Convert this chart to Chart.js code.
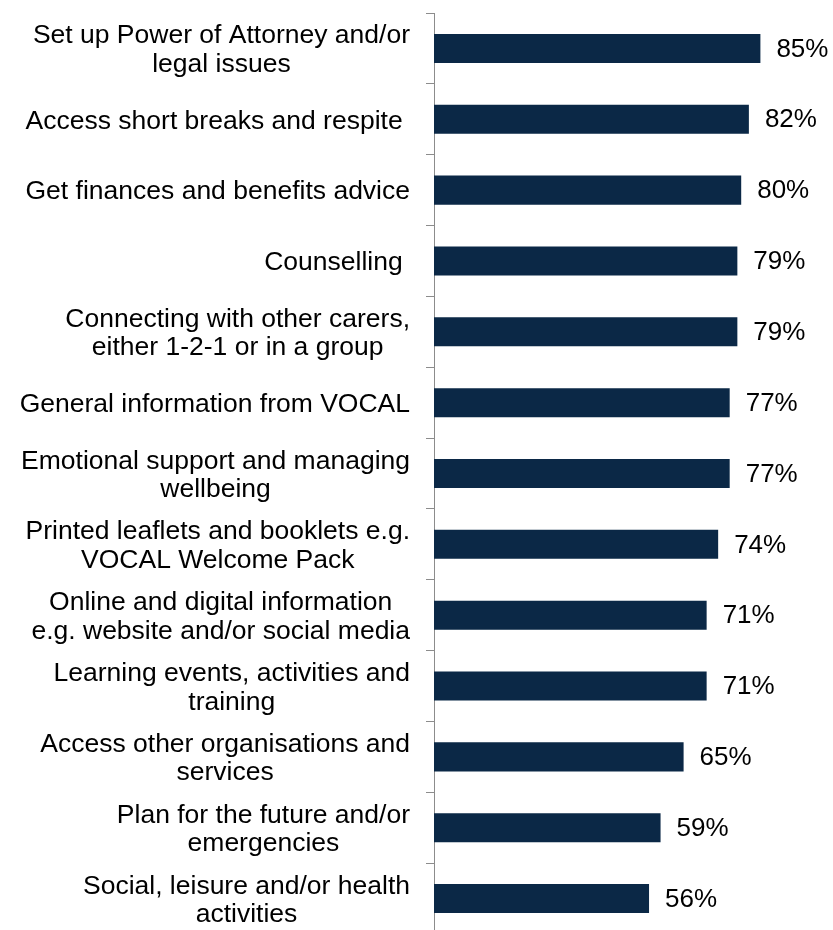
<!DOCTYPE html>
<html>
<head>
<meta charset="utf-8">
<script src="https://cdn.jsdelivr.net/npm/chart.js@4/dist/chart.umd.min.js"></script>
<style>
  html, body { margin: 0; padding: 0; background: #fff; overflow: hidden; }
  canvas { display: block; }
</style>
</head>
<body>
<canvas id="chart" width="833" height="936"></canvas>
<script>
// categories, each entry is the lines of the label
const categories = [
  ['Set up Power of Attorney and/or', 'legal issues'],
  ['Access short breaks and respite '],
  ['Get finances and benefits advice'],
  ['Counselling '],
  ['Connecting with other carers,', 'either 1-2-1 or in a group'],
  ['General information from VOCAL'],
  ['Emotional support and managing', 'wellbeing'],
  ['Printed leaflets and booklets e.g.', 'VOCAL Welcome Pack'],
  ['Online and digital information', 'e.g. website and/or social media'],
  ['Learning events, activities and', 'training'],
  ['Access other organisations and', 'services'],
  ['Plan for the future and/or', 'emergencies'],
  ['Social, leisure and/or health', 'activities']
];
const values = [85, 82, 80, 79, 79, 77, 77, 74, 71, 71, 65, 59, 56];

const FONT = '"Liberation Sans", Arial, sans-serif';

// category labels: lines centred on each other, block right-aligned next to the axis
const sideLabels = {
  id: 'sideLabels',
  afterDraw(chart) {
    const ctx = chart.ctx;
    const yScale = chart.scales.y;
    const right = chart.chartArea.left - 24;
    const lineH = 28.5;
    ctx.save();
    ctx.font = '26.5px ' + FONT;
    ctx.fillStyle = '#000';
    ctx.textAlign = 'center';
    ctx.textBaseline = 'middle';
    categories.forEach((lines, i) => {
      const y = yScale.getPixelForValue(i) + 2;
      const w = Math.max(...lines.map(l => ctx.measureText(l).width));
      const cx = right - w / 2;
      lines.forEach((l, j) => {
        ctx.fillText(l, cx, y + (j - (lines.length - 1) / 2) * lineH);
      });
    });
    ctx.restore();
  }
};

// value labels at the end of each bar
const valueLabels = {
  id: 'valueLabels',
  afterDatasetsDraw(chart) {
    const ctx = chart.ctx;
    const meta = chart.getDatasetMeta(0);
    ctx.save();
    ctx.font = '26px ' + FONT;
    ctx.fillStyle = '#000';
    ctx.textAlign = 'left';
    ctx.textBaseline = 'middle';
    meta.data.forEach((bar, i) => {
      ctx.fillText(values[i] + '%', bar.x + 16, bar.y + 1);
    });
    ctx.restore();
  }
};

new Chart(document.getElementById('chart'), {
  type: 'bar',
  data: {
    labels: categories,
    datasets: [{
      data: values,
      backgroundColor: '#0B2846',
      borderWidth: 0,
      barPercentage: 0.41,
      categoryPercentage: 1
    }]
  },
  options: {
    indexAxis: 'y',
    responsive: false,
    animation: false,
    layout: { padding: { left: 426, top: 13, right: 15, bottom: 2 } },
    plugins: {
      legend: { display: false },
      tooltip: { enabled: false }
    },
    scales: {
      x: {
        display: false,
        min: 0,
        max: 100
      },
      y: {
        offset: true,
        ticks: { display: false },
        grid: {
          offset: true,
          drawOnChartArea: false,
          drawTicks: true,
          tickLength: 8,
          color: '#8C8C8C',
          lineWidth: 1
        },
        border: { display: true, color: '#8C8C8C', width: 1 }
      }
    }
  },
  plugins: [sideLabels, valueLabels]
});
</script>
</body>
</html>
